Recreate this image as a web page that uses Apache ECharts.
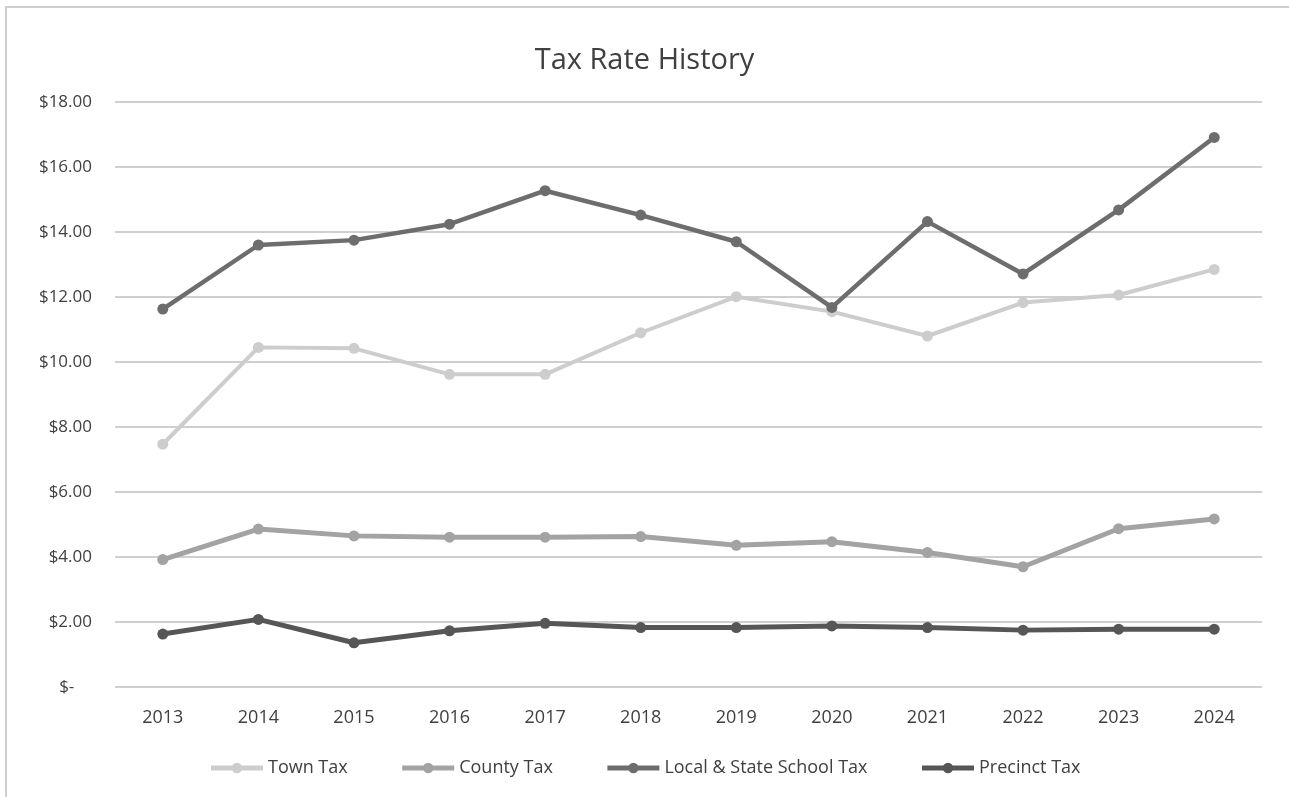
<!DOCTYPE html>
<html>
<head>
<meta charset="utf-8">
<script src="https://cdn.jsdelivr.net/npm/echarts@6/dist/echarts.min.js"></script>
<style>
html,body{margin:0;padding:0;background:#fff;}
#chart{width:1289px;height:797px;}
</style>
</head>
<body>
<div id="chart"></div>
<script>
var years = ['2013','2014','2015','2016','2017','2018','2019','2020','2021','2022','2023','2024'];
var townTax = [7.47, 10.45, 10.42, 9.62, 9.62, 10.90, 12.01, 11.55, 10.80, 11.83, 12.06, 12.85];
var countyTax = [3.92, 4.86, 4.65, 4.61, 4.61, 4.63, 4.36, 4.47, 4.14, 3.70, 4.87, 5.17];
var schoolTax = [11.63, 13.60, 13.75, 14.24, 15.27, 14.52, 13.70, 11.68, 14.32, 12.71, 14.68, 16.91];
var precinctTax = [1.63, 2.08, 1.36, 1.73, 1.96, 1.83, 1.83, 1.88, 1.83, 1.75, 1.78, 1.78];
var seriesNames = ['Town Tax','County Tax','Local & State School Tax','Precinct Tax'];
var seriesColors = ['#cdcdcd','#a3a3a3','#6d6d6d','#565656'];
var seriesWidths = [4, 5, 4.5, 5];

var FONT = '"Open Sans", sans-serif';
var chart = echarts.init(document.getElementById('chart'));
var dataSets = [townTax, countyTax, schoolTax, precinctTax];
var series = seriesNames.map(function(n, i){
  return {
    name: n, type: 'line', data: dataSets[i],
    symbol: 'circle', symbolSize: 11, showSymbol: true,
    itemStyle: {color: seriesColors[i]},
    lineStyle: {color: seriesColors[i], width: seriesWidths[i]},
    z: 2 + i
  };
});
chart.setOption({
  animation: false,
  backgroundColor: '#fff',
  graphic: [{
    type: 'rect', shape: {x: 6, y: 7, width: 1290, height: 800},
    style: {fill: 'none', stroke: '#cfcfcf', lineWidth: 2}, silent: true
  }],
  title: {
    text: 'Tax Rate History', left: 'center', top: 41,
    textStyle: {fontFamily: FONT, fontSize: 29, fontWeight: 'normal', color: '#404040'}
  },
  legend: {
    data: seriesNames, bottom: 15, left: 'center',
    itemWidth: 52, itemHeight: 13, itemGap: 52,
    lineStyle: {width: 5},
    textStyle: {fontFamily: FONT, fontSize: 18, color: '#404040'}
  },
  grid: {left: 115, right: 27, top: 102, bottom: 110, containLabel: false},
  xAxis: {
    type: 'category', data: years, boundaryGap: true,
    axisLine: {show: false}, axisTick: {show: false},
    axisLabel: {fontFamily: FONT, fontSize: 18, color: '#404040', margin: 22}
  },
  yAxis: {
    type: 'value', min: 0, max: 18, interval: 2,
    axisLine: {show: false}, axisTick: {show: false},
    splitLine: {lineStyle: {color: '#cfcfcf', width: 2}},
    axisLabel: {
      fontFamily: FONT, fontSize: 17, color: '#404040', margin: 23,
      formatter: function(v){ return v === 0 ? '$-    ' : '$' + v.toFixed(2); }
    }
  },
  series: series
});
</script>
</body>
</html>
